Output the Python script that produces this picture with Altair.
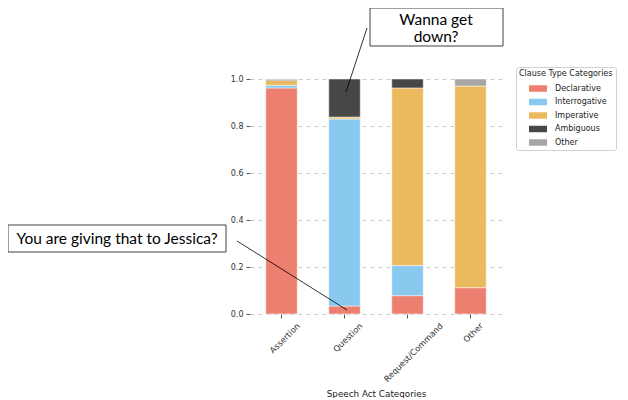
import altair as alt
import pandas as pd

speech_acts = ["Assertion", "Question", "Request/Command", "Other"]
clause_types = ["Declarative", "Interrogative", "Imperative", "Ambiguous", "Other"]
declarative = [0.962, 0.034, 0.078, 0.112]
interrogative = [0.011, 0.796, 0.128, 0.0]
imperative = [0.021, 0.008, 0.756, 0.858]
ambiguous = [0.005, 0.162, 0.038, 0.0]
other = [0.001, 0.0, 0.0, 0.030]
colors = ["#EC7F6F", "#89C9EF", "#EBBA5E", "#474747", "#A6A6A6"]
y_ticks = [0.0, 0.2, 0.4, 0.6, 0.8, 1.0]
note_question = "You are giving that to Jessica?"
note_request = ["Wanna get", "down?"]

series = [declarative, interrogative, imperative, ambiguous, other]
rows = []
for ci, (ct, vals) in enumerate(zip(clause_types, series)):
    for sa, v in zip(speech_acts, vals):
        rows.append({"speech": sa, "clause": ct, "order": ci, "value": v})
df = pd.DataFrame(rows)

label_offset = {
    "condition": [
        {"test": "datum.value == 'Request/Command'", "value": 31},
        {"test": "datum.value == 'Other'", "value": 8},
        {"test": "datum.value == 'Question'", "value": 13.5},
    ],
    "value": 14,
}

bars = alt.Chart(df).transform_filter("datum.value > 0").mark_bar(
    stroke="white", strokeWidth=0.5
).encode(
    x=alt.X(
        "speech:N",
        sort=speech_acts,
        scale=alt.Scale(paddingInner=0.5, paddingOuter=0.25),
        axis=alt.Axis(
            title="Speech Act Categories",
            titleFontSize=8.8,
            titleFontWeight="normal",
            titleY=82.5,
            titleBaseline="alphabetic",
            labelAngle=-45,
            labelAlign="right",
            labelBaseline="top",
            labelFontSize=8.3,
            labelOffset=label_offset,
            labelPadding=3,
            tickSize=4,
            tickColor="#555555",
            domain=False,
            grid=False,
        ),
    ),
    y=alt.Y(
        "value:Q",
        stack="zero",
        scale=alt.Scale(domain=[0, 1], nice=False),
        axis=alt.Axis(
            title="",
            values=y_ticks,
            format=".1f",
            labelFontSize=8,
            labelPadding=3,
            tickSize=4,
            tickColor="#555555",
            domain=False,
            grid=True,
            gridDash=[4, 4],
            gridColor="#cccccc",
        ),
    ),
    color=alt.Color(
        "clause:N",
        sort=clause_types,
        scale=alt.Scale(domain=clause_types, range=colors),
        legend=alt.Legend(
            title="Clause Type Categories",
            orient="none",
            legendX=266,
            legendY=-12,
            titleFontSize=8,
            titleFontWeight="normal",
            titleColor="#222222",
            titlePadding=1.5,
            labelFontSize=8,
            labelColor="#222222",
            symbolType="M-1,-0.36H1V0.36H-1Z",
            symbolSize=324,
            symbolStrokeWidth=0,
            symbolOpacity=1,
            symbolOffset=10,
            labelOffset=8,
            rowPadding=0.5,
            padding=3,
            strokeColor="#d0d0d0",
            cornerRadius=2,
            fillColor="white",
        ),
    ),
    order=alt.Order("order:Q", sort="ascending"),
)

one = pd.DataFrame({"k": [0]})


def box(x1, x2, y1, y2):
    return alt.Chart(one).mark_rect(fill="white", stroke="#404040", strokeWidth=1).encode(
        x=alt.value(x1), x2=alt.value(x2), y=alt.value(y1), y2=alt.value(y2)
    )


def label(x, y, txt):
    return alt.Chart(one).mark_text(
        font="Lato", fontSize=15.5, color="black", align="center", baseline="middle"
    ).encode(x=alt.value(x), y=alt.value(y), text=alt.value(txt))


def connector(x1, y1, x2, y2):
    return alt.Chart(one).mark_rule(color="black", strokeWidth=0.8).encode(
        x=alt.value(x1), y=alt.value(y1), x2=alt.value(x2), y2=alt.value(y2)
    )


chart = alt.layer(
    bars,
    box(-242, -24, 146, 173),
    label(-133, 160, note_question),
    connector(-13, 162, 97, 231),
    box(120, 253, -71, -33),
    label(186, -59, note_request[0]),
    label(186, -42, note_request[1]),
    connector(117, -51, 96, 13),
).properties(
    width=252,
    height=235,
    autosize=alt.AutoSizeParams(type="none"),
    padding={"left": 242, "top": 71, "right": 118, "bottom": 84},
).configure_view(strokeWidth=0).configure_axis(
    labelFont="DejaVu Sans", titleFont="DejaVu Sans", labelColor="#333333", titleColor="#222222"
).configure_legend(
    labelFont="DejaVu Sans", titleFont="DejaVu Sans"
)

chart.save("out.html", embed_options={"renderer": "svg", "actions": False})
